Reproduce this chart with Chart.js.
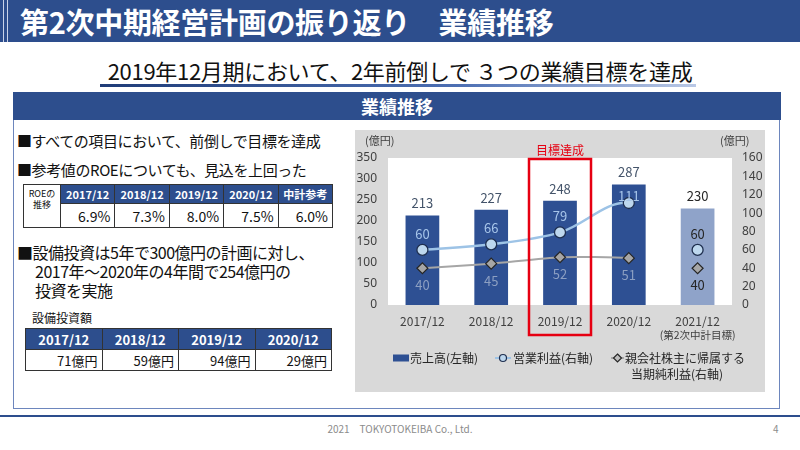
<!DOCTYPE html>
<html>
<head>
<meta charset="utf-8">
<script src="https://cdn.jsdelivr.net/npm/chart.js@4.4.1/dist/chart.umd.min.js"></script>
<style>
body{margin:0;width:800px;height:450px;overflow:hidden;background:#fff;position:relative;
  font-family:"Noto Sans CJK JP","Noto Sans",sans-serif;color:#111}
.abs{position:absolute}
#title{left:0;top:0;width:800px;height:42px;background:#2d4e8d}
#title .txt{position:absolute;left:20px;top:0;line-height:42px;font-size:29px;font-weight:bold;color:#fff;letter-spacing:-0.3px;white-space:nowrap}
#title .bar{position:absolute;top:0;width:1px;height:42px;background:#c9d3e8}
#sub{left:0;width:800px;top:54px;text-align:center;font-size:22px;line-height:32px;white-space:nowrap;letter-spacing:-0.3px}
#subline{left:100px;top:84px;width:596px;height:3px;background:linear-gradient(90deg,#1f3c78,#4c6fb3 60%,#b9c8e6)}
#box{left:13px;top:92px;width:765px;height:315px;border:1.5px solid #6d86bd}
#boxhead{left:13px;top:92px;width:768px;height:28px;background:#2d4e8d;color:#fff;font-weight:bold;font-size:18px;line-height:28px;text-align:center}
.bul{left:17px;font-size:15px;letter-spacing:-0.4px;white-space:nowrap;line-height:22px}
.bul3{left:17px;font-size:16px;letter-spacing:-0.5px;white-space:nowrap;line-height:19px}
.bul3 .ind{padding-left:18px}
table{border-collapse:collapse;position:absolute;table-layout:fixed}
td{border:1px solid #333;padding:0 4px;white-space:nowrap}
td.h{background:#2d4e8d;color:#fff;font-weight:bold;text-align:center}
td.v{text-align:right;background:#fff}
#roe{left:23px;top:184px;width:310px}
#roe td.h{font-size:11px;height:18px}
#roe td.v{font-size:14px;height:23px}
#roe td.lab{font-size:9px;line-height:11px;text-align:center;vertical-align:top;padding-top:3px}
#capexCap{left:32px;top:309px;font-size:12px}
#capex{left:25px;top:328px;width:307px}
#capex td.h{font-size:13px;height:20px}
#capex td.v{font-size:13px;height:20px}
#chartWrap{left:355px;top:130px;width:410px;height:262px;background:#d9d9d9}
#footline{left:0;top:415px;width:800px;height:2px;background:#2d4e8d}
#foot{left:0;width:800px;top:421px;text-align:center;font-size:10px;color:#8c8c8c;line-height:16px}
#page{left:773px;top:421px;font-size:10px;color:#8c8c8c;line-height:16px}
</style>
</head>
<body>
<div id="title" class="abs"><div class="bar" style="left:3px"></div><div class="bar" style="left:7px"></div><div class="txt">第2次中期経営計画の振り返り　業績推移</div></div>
<div id="sub" class="abs">2019年12月期において、2年前倒しで ３つの業績目標を達成</div>
<div id="subline" class="abs"></div>
<div id="box" class="abs"></div>
<div id="boxhead" class="abs">業績推移</div>

<div class="abs bul" style="top:130px">■すべての項目において、前倒しで目標を達成</div>
<div class="abs bul" style="top:159px">■参考値のROEについても、見込を上回った</div>
<table id="roe"></table>
<div class="abs bul3" style="top:243px"><div>■設備投資は5年で300億円の計画に対し、</div><div class="ind">2017年～2020年の4年間で254億円の</div><div class="ind">投資を実施</div></div>
<div id="capexCap" class="abs">設備投資額</div>
<table id="capex"></table>

<div id="chartWrap" class="abs"><canvas id="chart" width="410" height="262"></canvas></div>
<div id="footline" class="abs"></div>
<div id="foot" class="abs">2021　TOKYOTOKEIBA Co., Ltd.</div>
<div id="page" class="abs">4</div>

<script>
// data
const categories = ['2017/12', '2018/12', '2019/12', '2020/12', '2021/12']
const sales = [213, 227, 248, 287, 230]
const opProfit = [60, 66, 79, 111, 60]
const netProfit = [40, 45, 52, 51, 40]
const leftMax = 350, leftStep = 50
const rightMax = 160, rightStep = 20

const roeYears = ['2017/12', '2018/12', '2019/12', '2020/12', '中計参考']
const roeValues = ['6.9%', '7.3%', '8.0%', '7.5%', '6.0%']
const capexYears = ['2017/12', '2018/12', '2019/12', '2020/12']
const capexValues = ['71億円', '59億円', '94億円', '29億円']

// tables
const roeTable = document.getElementById('roe')
roeTable.innerHTML =
	'<colgroup><col style="width:37px">' + roeYears.map(() => '<col>').join('') + '</colgroup>' +
	'<tr><td class="lab" rowspan="2">ROEの<br>推移</td>' + roeYears.map(y => `<td class="h">${y}</td>`).join('') + '</tr>' +
	'<tr>' + roeValues.map(v => `<td class="v">${v}</td>`).join('') + '</tr>'

const capexTable = document.getElementById('capex')
capexTable.innerHTML =
	'<tr>' + capexYears.map(y => `<td class="h">${y}</td>`).join('') + '</tr>' +
	'<tr>' + capexValues.map(v => `<td class="v">${v}</td>`).join('') + '</tr>'

// chart
const barColors = ['#2e5093', '#2e5093', '#2e5093', '#2e5093', '#8fa3c9']
const FONT = '"Noto Sans CJK JP", "Noto Sans", sans-serif'
const lastIdx = categories.length - 1

const decor = {
	id: 'decor',
	beforeDatasetsDraw(chart) {
		const { ctx, chartArea: a } = chart
		ctx.save()
		ctx.fillStyle = '#fff'
		ctx.fillRect(a.left, a.top, a.right - a.left, a.bottom - a.top)
		ctx.restore()
	},
	afterDatasetsDraw(chart) {
		const { ctx } = chart
		const x = chart.scales.x, yl = chart.scales.y, yr = chart.scales.y1
		ctx.save()
		ctx.font = '13px ' + FONT
		ctx.textAlign = 'center'
		ctx.textBaseline = 'middle'
		categories.forEach((c, i) => {
			const px = x.getPixelForValue(i)
			const top = yl.getPixelForValue(sales[i])
			const last = i === lastIdx
			ctx.fillStyle = last ? '#262626' : '#44546a'
			ctx.fillText(sales[i], px, top - 12)
			const op = yr.getPixelForValue(opProfit[i])
			ctx.fillStyle = last ? '#262626' : '#a7c5ea'
			ctx.fillText(opProfit[i], px, Math.max(op - 16, top + 12))
			const np = yr.getPixelForValue(netProfit[i])
			ctx.fillStyle = last ? '#262626' : '#8c9fc2'
			ctx.fillText(netProfit[i], px, np + 17)
		})
		ctx.restore()
	},
	afterDraw(chart) {
		const { ctx, chartArea: a } = chart
		const x = chart.scales.x
		ctx.save()
		// axis units
		ctx.font = '11px ' + FONT
		ctx.fillStyle = '#404040'
		ctx.textBaseline = 'middle'
		ctx.textAlign = 'left'
		ctx.fillText('(億円)', 10, 11)
		ctx.fillText('(億円)', 365, 11)
		// sub label under last category
		ctx.textAlign = 'center'
		ctx.font = '10.5px ' + FONT
		ctx.fillText('(第2次中計目標)', x.getPixelForValue(lastIdx), 205)
		// target achieved box
		const cx = x.getPixelForValue(2)
		ctx.strokeStyle = '#e60012'
		ctx.lineWidth = 2.5
		ctx.strokeRect(cx - 31, a.top + 1, 62, 205 - a.top - 1)
		ctx.fillStyle = '#e60012'
		ctx.font = '12px ' + FONT
		ctx.fillText('目標達成', cx, 20)
		// legend
		const ly = 228
		ctx.font = '12px ' + FONT
		ctx.textAlign = 'left'
		ctx.fillStyle = '#2e5093'
		ctx.fillRect(38, ly - 3.5, 16, 7)
		ctx.fillStyle = '#262626'
		ctx.fillText('売上高(左軸)', 55, ly)

		ctx.strokeStyle = '#9dc3e6'
		ctx.lineWidth = 2
		ctx.beginPath(); ctx.moveTo(140, ly); ctx.lineTo(156, ly); ctx.stroke()
		ctx.beginPath(); ctx.arc(148, ly, 3.5, 0, Math.PI * 2)
		ctx.fillStyle = '#bdd7ee'; ctx.fill()
		ctx.strokeStyle = '#1f2f4f'; ctx.lineWidth = 1.2; ctx.stroke()
		ctx.fillStyle = '#262626'
		ctx.fillText('営業利益(右軸)', 158, ly)

		ctx.strokeStyle = '#a6a6a6'
		ctx.lineWidth = 2
		ctx.beginPath(); ctx.moveTo(256, ly); ctx.lineTo(269, ly); ctx.stroke()
		ctx.beginPath()
		ctx.moveTo(262.5, ly - 4); ctx.lineTo(266.5, ly); ctx.lineTo(262.5, ly + 4); ctx.lineTo(258.5, ly); ctx.closePath()
		ctx.fillStyle = '#bfbfbf'; ctx.fill()
		ctx.strokeStyle = '#262626'; ctx.lineWidth = 1.2; ctx.stroke()
		ctx.fillStyle = '#262626'
		ctx.fillText('親会社株主に帰属する', 270, ly)
		ctx.fillText('当期純利益(右軸)', 276, ly + 16)
		ctx.restore()
	}
}

const chart = new Chart(document.getElementById('chart'), {
	data: {
		labels: categories,
		datasets: [
			{
				type: 'line', label: '営業利益(右軸)', data: opProfit, yAxisID: 'y1', order: 1,
				borderColor: '#9dc3e6', borderWidth: 2.5, tension: 0.35,
				pointStyle: 'circle', pointRadius: 5.5, pointBackgroundColor: '#bdd7ee',
				pointBorderColor: '#1f2f4f', pointBorderWidth: 1.3,
				segment: { borderColor: c => c.p1DataIndex === lastIdx ? 'transparent' : undefined },
			},
			{
				type: 'line', label: '親会社株主に帰属する当期純利益(右軸)', data: netProfit, yAxisID: 'y1', order: 1,
				borderColor: '#a6a6a6', borderWidth: 2, tension: 0.2,
				pointStyle: 'rectRot', pointRadius: 5.5, pointBackgroundColor: '#a6a6a6',
				pointBorderColor: '#262626', pointBorderWidth: 1.2,
				segment: { borderColor: c => c.p1DataIndex === lastIdx ? 'transparent' : undefined },
			},
			{
				type: 'bar', label: '売上高(左軸)', data: sales, yAxisID: 'y', order: 2,
				backgroundColor: barColors, categoryPercentage: 1, barPercentage: 0.49,
			},
		],
	},
	options: {
		responsive: false,
		devicePixelRatio: 1,
		animation: false,
		layout: { padding: { top: 28, left: 0, right: 0, bottom: 0 } },
		plugins: { legend: { display: false }, tooltip: { enabled: false } },
		scales: {
			x: {
				grid: { display: false, drawTicks: false },
				border: { display: false },
				ticks: { padding: 9, color: '#404040', font: { size: 12, family: FONT } },
				afterFit: s => { s.height = 87 },
			},
			y: {
				position: 'left', min: 0, max: leftMax,
				grid: { display: false, drawTicks: false },
				border: { display: false },
				ticks: { stepSize: leftStep, padding: 11, color: '#404040', font: { size: 12, family: '"Noto Sans", sans-serif' } },
				afterFit: s => { s.width = 33 },
			},
			y1: {
				position: 'right', min: 0, max: rightMax,
				grid: { display: false, drawTicks: false },
				border: { display: false },
				ticks: { stepSize: rightStep, padding: 10, color: '#404040', font: { size: 12, family: '"Noto Sans", sans-serif' } },
				afterFit: s => { s.width = 33 },
			},
		},
	},
	plugins: [decor],
})
</script>
</body>
</html>
